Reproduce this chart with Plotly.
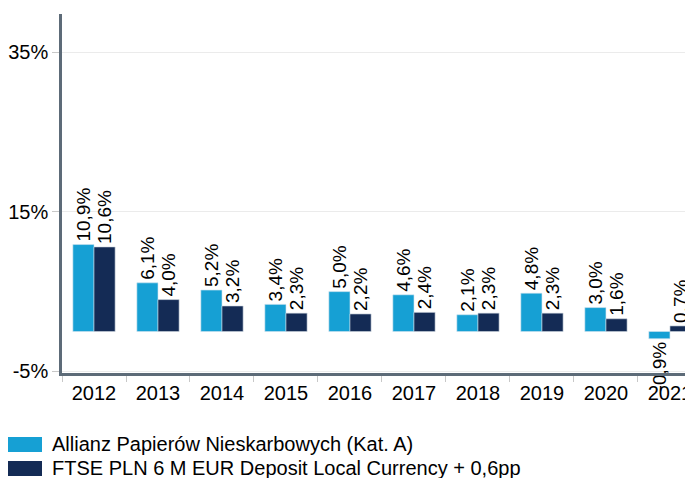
import plotly.graph_objects as go

years = ["2012", "2013", "2014", "2015", "2016", "2017", "2018", "2019", "2020", "2021"]
fund_name = "Allianz Papierów Nieskarbowych (Kat. A)"
bench_name = "FTSE PLN 6 M EUR Deposit Local Currency + 0,6pp"
fund_values = [10.9, 6.1, 5.2, 3.4, 5.0, 4.6, 2.1, 4.8, 3.0, -0.9]
bench_values = [10.6, 4.0, 3.2, 2.3, 2.2, 2.4, 2.3, 2.3, 1.6, 0.7]
y_ticks = [-5, 15, 35]

FUND_COLOR = "#16a0d4"
BENCH_COLOR = "#142b55"


def fmt(v):
    return f"{v:.1f}%".replace(".", ",")


FONT = "Liberation Sans, Arial, sans-serif"

fig = go.Figure()
fig.add_trace(go.Bar(
    x=years, y=fund_values, name=fund_name,
    marker=dict(color=FUND_COLOR, line=dict(color="#cfe3ee", width=0.6)),
    text=[fmt(v) for v in fund_values], textposition="outside", textangle=-90,
    constraintext="none",
    textfont=dict(family=FONT, size=19, color="#000000"), cliponaxis=False,
))
fig.add_trace(go.Bar(
    x=years, y=bench_values, name=bench_name,
    marker=dict(color=BENCH_COLOR, line=dict(color="#cfd6e0", width=0.6)),
    text=[fmt(v) for v in bench_values], textposition="outside", textangle=-90,
    constraintext="none",
    textfont=dict(family=FONT, size=19, color="#000000"), cliponaxis=False,
))

# manual legend (large swatches as in the reference)
legend_items = [(fund_name, FUND_COLOR), (bench_name, BENCH_COLOR)]
row_y = [(-0.220, -0.178), (-0.287, -0.245)]
for (label, color), (y0, y1) in zip(legend_items, row_y):
    fig.add_shape(type="rect", xref="paper", yref="paper",
                  x0=-0.0935, x1=-0.0317, y0=y0, y1=y1,
                  fillcolor=color, line=dict(width=0))
    fig.add_annotation(xref="paper", yref="paper", x=-0.019, y=(y0 + y1) / 2,
                       text=label, showarrow=False, xanchor="left", yanchor="middle",
                       font=dict(family=FONT, size=20, color="#000000"))

fig.update_layout(
    width=693, height=478,
    margin=dict(l=54, r=8, t=6, b=113, autoexpand=False),
    paper_bgcolor="white", plot_bgcolor="white",
    barmode="group", bargap=0.34, bargroupgap=0,
    font=dict(family=FONT, size=20, color="#000000"),
    showlegend=False,
)
fig.update_xaxes(
    type="category", range=[-0.5, 9.36], automargin=False,
    showline=True, linecolor="#5d6b78", linewidth=2.5,
    ticks="outside", tickson="boundaries", ticklen=6, tickcolor="#c8c8c8",
    showgrid=False, tickfont=dict(family=FONT, size=20),
)
fig.update_yaxes(
    range=[-5.2, 39.8], tickvals=y_ticks, ticktext=[f"{t}%" for t in y_ticks],
    automargin=False,
    showline=True, linecolor="#5d6b78", linewidth=2.5,
    ticks="outside", ticklen=7, tickcolor="#c8c8c8",
    showgrid=True, gridcolor="#ebebeb", gridwidth=1, zeroline=False,
    tickfont=dict(family=FONT, size=20),
)

fig.write_html("out.html")
